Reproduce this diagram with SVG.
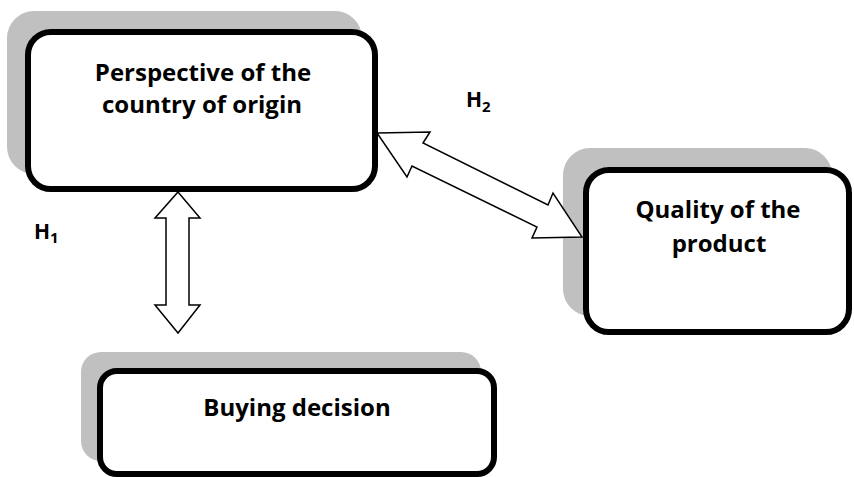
<svg xmlns="http://www.w3.org/2000/svg" width="854" height="477" viewBox="0 0 854 477">
<style>
.shadow{fill:#c0c0c0;stroke:none}
.box{fill:#ffffff;stroke:#000000;stroke-width:6}
.lbl{font-family:"Open Sans","Noto Sans","DejaVu Sans",sans-serif;font-weight:bold;font-size:24px;fill:#000;text-anchor:middle}
.h{font-family:"Open Sans","Noto Sans","DejaVu Sans",sans-serif;font-weight:bold;font-size:21px;fill:#000}
.sub{font-size:15px}
.arrow{fill:#ffffff;stroke:#000000;stroke-width:1.5;stroke-linejoin:miter}
</style>
<rect width="854" height="477" fill="#ffffff"/>
<g id="node-origin">
<rect class="shadow" x="7" y="11" width="355" height="163" rx="27"/>
<rect class="box" x="28" y="32" width="347" height="157" rx="23"/>
<text class="lbl" x="203" y="81">Perspective of the</text>
<text class="lbl" x="202" y="113">country of origin</text>
</g>
<g id="node-quality">
<rect class="shadow" x="563" y="148" width="269" height="168" rx="27"/>
<rect class="box" x="586" y="170" width="263" height="162" rx="23"/>
<text class="lbl" x="718" y="218">Quality of the</text>
<text class="lbl" x="719" y="252">product</text>
</g>
<g id="node-buying">
<rect class="shadow" x="81" y="352" width="400" height="109" rx="20"/>
<rect class="box" x="100" y="371" width="394" height="103" rx="17"/>
<text class="lbl" x="297" y="416">Buying decision</text>
</g>
<g id="connectors">
<polygon class="arrow" points="178,192 200,218 189,218 189,305 200,305 178,333 155,305 166,305 166,218 155,218"/>
<polygon class="arrow" points="377,133 430,132 423,143 548,205 553,193 582,237 532,238 537,227 412,166 407,177"/>
</g>
<g id="labels">
<text class="h" x="34" y="239">H<tspan class="sub" dy="4">1</tspan></text>
<text class="h" x="466" y="107">H<tspan class="sub" dy="5">2</tspan></text>
</g>
</svg>
